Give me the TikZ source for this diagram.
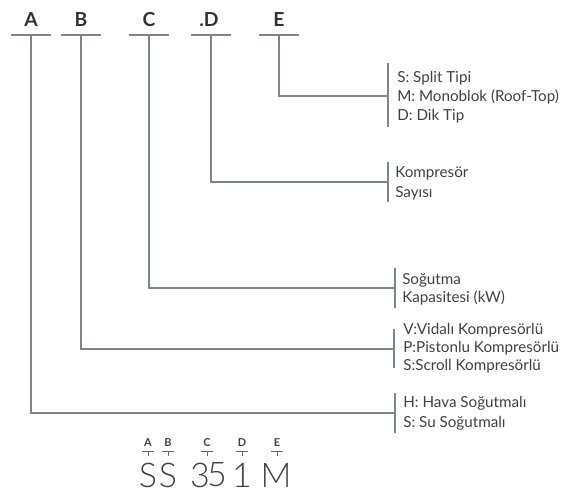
\documentclass[tikz,border=0pt]{standalone}
\usepackage{fontspec}
\setmainfont{Lato}
\newfontfamily\lightfont{Lato Light}
\begin{document}
\begin{tikzpicture}[x=0.75pt,y=-0.75pt,
  ln/.style={draw=linegray,line width=1.1pt},
  toplabel/.style={inner sep=0pt,font=\fontsize{14.5}{16}\selectfont\bfseries,text=black!80},
  desc/.style={anchor=west,inner sep=0pt,align=left,text=black!75,font=\fontsize{11.4}{13.6}\selectfont},
  small/.style={inner sep=0pt,font=\fontsize{8.2}{9}\selectfont\bfseries,text=black!75},
  big/.style={inner sep=0pt,font=\lightfont\fontsize{25.5}{28}\selectfont,text=black!75}]
\definecolor{linegray}{HTML}{7F8484}
\useasboundingbox (0,0) rectangle (587,498);
% top labels
\node[toplabel] (A) at (31,20) {A};
\node[toplabel] (B) at (81,20) {B};
\node[toplabel] (C) at (149,20) {C};
\node[toplabel] (D) at (209,20) {.D};
\node[toplabel] (E) at (279,20) {E};
% underlines
\foreach \n/\x in {A/31,B/81,C/149,D/211,E/279}{
  \draw[ln] (\x-20,35) -- (\x+20,35);
  \coordinate (\n u) at (\x,35);
}
% bracket points
\coordinate (Eb) at (388,96);
\coordinate (Db) at (388,182);
\coordinate (Cb) at (395,288);
\coordinate (Bb) at (394,349);
\coordinate (Ab) at (395,413);
% connectors
\foreach \n in {A,B,C,D,E}{\draw[ln] (\n u) |- (\n b);}
% bars
\draw[ln] (388,63) -- (388,127);
\draw[ln] (388,162) -- (388,202);
\draw[ln] (395,268) -- (395,308);
\draw[ln] (394,329) -- (394,368);
\draw[ln] (395,393) -- (395,433);
% descriptions
\node[desc] (Et) at (397,97) {S: Split Tipi\\[0.6pt]M: Monoblok (Roof-Top)\\[0.6pt]D: Dik Tip};
\node[desc] (Dt) at (395,183) {Kompresör\\[1.4pt]Sayısı};
\node[desc] (Ct) at (402,289) {Soğutma\\Kapasitesi (kW)};
\node[desc] (Bt) at (403,348) {V:Vidalı Kompresörlü\\P:Pistonlu Kompresörlü\\S:Scroll Kompresörlü};
\node[desc] (At) at (403,413) {H: Hava Soğutmalı\\[1.4pt]S: Su Soğutmalı};
% bottom code
\foreach \n/\x in {a/148,b/168,c/207,d/242,e/277}{
  \draw[line width=0.6pt,draw=black!60] (\x-6,451) -- (\x+6,451) (\x,451) -- (\x,456);
}
\node[small] (sa) at (148,443) {A};
\node[small] (sb) at (168,443) {B};
\node[small] (sc) at (207,443) {C};
\node[small] (sd) at (242,443) {D};
\node[small] (se) at (277,443) {E};
\node[big] (s1) at (148,475) {S};
\node[big] (s2) at (168,475) {S};
\node[big] (s3) at (200,475) {3};
\node[big] (s4) at (217,475) {5};
\node[big] (s5) at (242,475) {1};
\node[big] (s6) at (276,475) {M};
\end{tikzpicture}
\end{document}
